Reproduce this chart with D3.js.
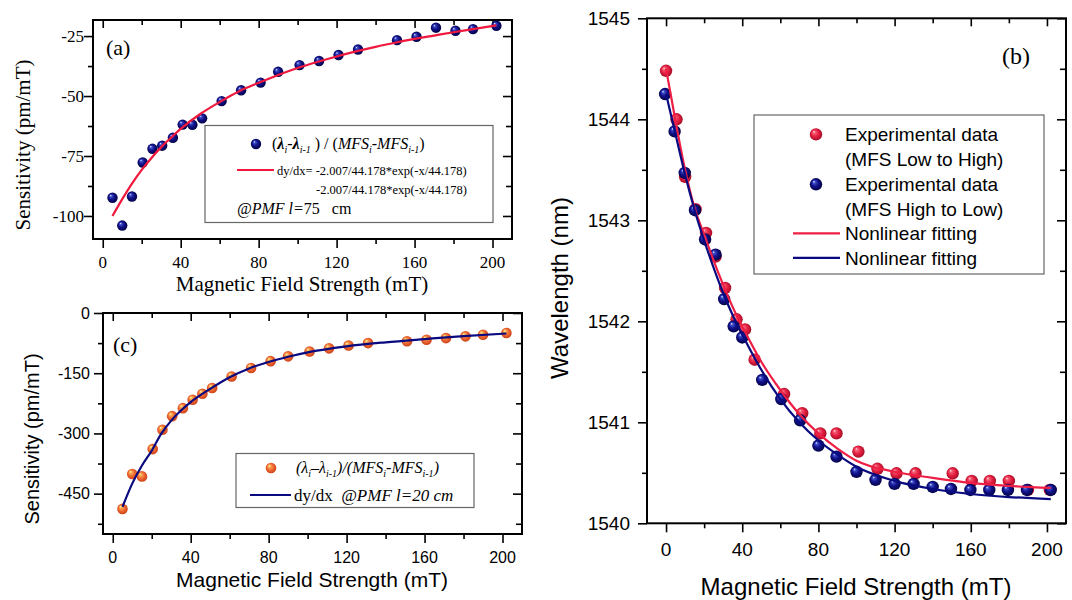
<!DOCTYPE html>
<html>
<head>
<meta charset="utf-8">
<script src="https://cdn.jsdelivr.net/npm/d3@7"></script>
<style>
  html, body { margin: 0; padding: 0; background: #fff; }
  svg { display: block; }
</style>
</head>
<body>
<script>
// ---------------- DATA ----------------
// Panel (a): sensitivity, PMF l = 75 cm
const aMFS  = [5, 10, 15, 20.5, 25.5, 30.5, 36, 41, 46, 51, 61, 71, 81, 90, 101, 111, 121, 131, 151, 161, 171, 181, 190, 202];
const aSens = [-92.4, -104, -91.9, -77.7, -72, -70.7, -67.4, -61.9, -62, -59.3, -52.1, -47.6, -44.4, -39.9, -37.1, -35.4, -32.9, -30.6, -26.7, -25.3, -21.5, -22.8, -22.1, -20.7];
const aFitMFS  = [5, 10, 15, 20, 25, 30, 35, 40, 50, 60, 70, 80, 90, 100, 110, 120, 130, 140, 150, 160, 170, 180, 190, 202];
const aFitSens = [-100, -93, -86.5, -80.8, -75.8, -71.3, -67.4, -63.7, -57.5, -52.5, -48, -44.5, -41.2, -38.3, -35.8, -33.5, -31.4, -29.5, -27.8, -26.2, -24.8, -23.4, -22.1, -20.5];
const aXTicks = [0, 40, 80, 120, 160, 200];
const aXMinor = [20, 60, 100, 140, 180];
const aYTicks = [-100, -75, -50, -25];
const aYMinor = [-87.5, -62.5, -37.5];

// Panel (c): sensitivity, PMF l = 20 cm
const cMFS  = [5, 10, 15, 20.5, 25.5, 30.5, 36, 41, 46, 51, 61, 71, 81, 90, 101, 111, 121, 131, 151, 161, 171, 181, 190, 202];
const cSens = [-488, -401, -407, -339, -291, -257, -237, -216, -201, -187, -158, -137, -120, -108, -96, -88, -81, -75, -70.5, -66.5, -62.5, -58.2, -54, -50];
const cFitMFS  = [5, 10, 15, 20, 25, 30, 35, 40, 50, 60, 70, 80, 90, 100, 120, 140, 160, 180, 202];
const cFitSens = [-483, -425, -380, -343, -300, -268, -243, -222, -189, -160, -138, -122, -109, -98, -83, -73, -65, -57.5, -51];
const cXTicks = [0, 40, 80, 120, 160, 200];
const cXMinor = [20, 60, 100, 140, 180];
const cYTicks = [-450, -300, -150, 0];
const cYMinor = [-525, -375, -225, -75];

// Panel (b): wavelength vs MFS
const bLowMFS = [0, 5.5, 10, 15.5, 21, 26, 31, 37, 41.5, 46.5, 62, 71.5, 81, 89.5, 101, 111, 121, 131, 150.5, 160.5, 170, 180, 190, 201.5];
const bLowWl  = [1544.48, 1544.0, 1543.43, 1543.11, 1542.875, 1542.64, 1542.33, 1542.02, 1541.92, 1541.62, 1541.28, 1541.09, 1540.89, 1540.89, 1540.71, 1540.54, 1540.495, 1540.495, 1540.495, 1540.42, 1540.42, 1540.42, 1540.33, 1540.33];
const bHighMFS = [-0.5, 4.5, 9.8, 15.2, 20.5, 26, 30.5, 35.5, 40, 50.5, 60.5, 70.4, 80, 89.5, 100, 110, 120, 130, 140, 149.6, 159.8, 169.7, 179.5, 189.5, 202];
const bHighWl  = [1544.25, 1543.88, 1543.47, 1543.10, 1542.81, 1542.66, 1542.22, 1541.95, 1541.84, 1541.42, 1541.23, 1541.02, 1540.77, 1540.66, 1540.51, 1540.43, 1540.39, 1540.39, 1540.36, 1540.34, 1540.33, 1540.33, 1540.33, 1540.33, 1540.33];
const bFitMFS     = [0, 5, 10, 15, 20, 25, 30, 35, 40, 50, 60, 70, 80, 90, 100, 120, 140, 160, 180, 202];
const bFitLowWl   = [1544.50, 1543.98, 1543.50, 1543.12, 1542.86, 1542.60, 1542.36, 1542.14, 1541.95, 1541.60, 1541.32, 1541.08, 1540.89, 1540.74, 1540.62, 1540.51, 1540.45, 1540.40, 1540.37, 1540.35];
const bFitHighWl  = [1544.25, 1543.85, 1543.45, 1543.10, 1542.80, 1542.53, 1542.28, 1542.06, 1541.87, 1541.52, 1541.23, 1541.00, 1540.82, 1540.68, 1540.56, 1540.42, 1540.34, 1540.29, 1540.26, 1540.24];
const bXTicks = [0, 40, 80, 120, 160, 200];
const bXMinor = [20, 60, 100, 140, 180];
const bYTicks = [1540, 1541, 1542, 1543, 1544, 1545];
const bYMinor = [1540.5, 1541.5, 1542.5, 1543.5, 1544.5];

// ---------------- DRAWING ----------------
const SERIF = "'Liberation Serif', 'Times New Roman', serif";
const SANS = "'Liberation Sans', Arial, sans-serif";

const svg = d3.select("body").append("svg").attr("width", 1072).attr("height", 600);
const defs = svg.append("defs");

function sphereGrad(id, stops) {
  const g = defs.append("radialGradient").attr("id", id)
    .attr("cx", "50%").attr("cy", "50%").attr("r", "55%")
    .attr("fx", "32%").attr("fy", "28%");
  stops.forEach(([o, c]) => g.append("stop").attr("offset", o).attr("stop-color", c));
}
sphereGrad("gNavy", [["0%", "#e8f0ff"], ["18%", "#4050c8"], ["50%", "#12128c"], ["100%", "#00003a"]]);
sphereGrad("gRed", [["0%", "#ffe0e6"], ["20%", "#f45a72"], ["55%", "#e41e40"], ["100%", "#9a0c22"]]);
sphereGrad("gOrange", [["0%", "#ffffb0"], ["22%", "#f8a850"], ["55%", "#f06a34"], ["100%", "#c43a12"]]);

function frame(p) {
  const { x, y, xMaj, xMin, yMaj, yMin, font, size, xLabY, yLabX } = p;
  const [xl, xr] = x.range();
  const [yb, yt] = y.range();
  const g = svg.append("g");
  const style = sel => {
    sel.select(".domain").remove();
    sel.selectAll("line").attr("stroke", "#000").attr("stroke-width", 1.6);
  };
  // bottom (outward) and top (inward)
  g.append("g").attr("transform", `translate(0,${yb})`)
    .call(d3.axisBottom(x).tickValues(xMaj).tickSizeInner(9).tickSizeOuter(0).tickFormat("")).call(style);
  g.append("g").attr("transform", `translate(0,${yb})`)
    .call(d3.axisBottom(x).tickValues(xMin).tickSizeInner(5).tickSizeOuter(0).tickFormat("")).call(style);
  g.append("g").attr("transform", `translate(0,${yt})`)
    .call(d3.axisTop(x).tickValues(xMaj).tickSizeInner(-8).tickSizeOuter(0).tickFormat("")).call(style);
  g.append("g").attr("transform", `translate(0,${yt})`)
    .call(d3.axisTop(x).tickValues(xMin).tickSizeInner(-5).tickSizeOuter(0).tickFormat("")).call(style);
  // left (outward) and right (inward)
  g.append("g").attr("transform", `translate(${xl},0)`)
    .call(d3.axisLeft(y).tickValues(yMaj).tickSizeInner(9).tickSizeOuter(0).tickFormat("")).call(style);
  g.append("g").attr("transform", `translate(${xl},0)`)
    .call(d3.axisLeft(y).tickValues(yMin).tickSizeInner(5).tickSizeOuter(0).tickFormat("")).call(style);
  g.append("g").attr("transform", `translate(${xr},0)`)
    .call(d3.axisRight(y).tickValues(yMaj).tickSizeInner(-9).tickSizeOuter(0).tickFormat("")).call(style);
  g.append("g").attr("transform", `translate(${xr},0)`)
    .call(d3.axisRight(y).tickValues(yMin).tickSizeInner(-6).tickSizeOuter(0).tickFormat("")).call(style);
  // frame
  g.append("rect").attr("x", xl).attr("y", yt).attr("width", xr - xl).attr("height", yb - yt)
    .attr("fill", "none").attr("stroke", "#000").attr("stroke-width", 2);
  // tick labels
  g.selectAll(".xl").data(xMaj).join("text").attr("class", "xl")
    .attr("x", d => x(d)).attr("y", xLabY).attr("text-anchor", "middle")
    .attr("font-family", font).attr("font-size", size).text(d => String(d));
  g.selectAll(".yl").data(yMaj).join("text").attr("class", "yl")
    .attr("x", yLabX).attr("y", d => y(d) + size * 0.35).attr("text-anchor", "end")
    .attr("font-family", font).attr("font-size", size).text(d => String(d));
  return g;
}

function text(x, y, str, font, size, opts = {}) {
  const t = svg.append("text").attr("x", x).attr("y", y).attr("font-family", font).attr("font-size", size)
    .attr("fill", "#000").text(str);
  if (opts.anchor) t.attr("text-anchor", opts.anchor);
  if (opts.rotate) t.attr("transform", `rotate(-90,${x},${y})`);
  if (opts.italic) t.attr("font-style", "italic");
  return t;
}

function balls(xs, ys, x, y, grad, r) {
  svg.append("g").selectAll("circle").data(d3.zip(xs, ys)).join("circle")
    .attr("cx", d => x(d[0])).attr("cy", d => y(d[1])).attr("r", r).attr("fill", `url(#${grad})`);
}
function fitLine(xs, ys, x, y, color) {
  const line = d3.line().x(d => x(d[0])).y(d => y(d[1])).curve(d3.curveMonotoneX);
  svg.append("path").datum(d3.zip(xs, ys)).attr("d", line)
    .attr("fill", "none").attr("stroke", color).attr("stroke-width", 2.2);
}

// ---- Panel (a)
{
  const x = d3.scaleLinear().domain([-5, 210]).range([93, 512]);
  const y = d3.scaleLinear().domain([-109.6, -18.3]).range([239, 20]);
  frame({ x, y, xMaj: aXTicks, xMin: aXMinor, yMaj: aYTicks, yMin: aYMinor, font: SERIF, size: 17, xLabY: 268, yLabX: 84 });
  balls(aMFS, aSens, x, y, "gNavy", 5.2);
  fitLine(aFitMFS, aFitSens, x, y, "#f0183c");
  text(106, 55, "(a)", SERIF, 22);
  text(302, 291, "Magnetic Field Strength (mT)", SERIF, 21, { anchor: "middle" });
  text(30, 145, "Sensitivity (pm/mT)", SERIF, 21, { anchor: "middle", rotate: true });

  // legend
  svg.append("rect").attr("x", 205).attr("y", 125.5).attr("width", 288).attr("height", 97)
    .attr("fill", "#fff").attr("stroke", "#666").attr("stroke-width", 1.2);
  svg.append("circle").attr("cx", 256).attr("cy", 144).attr("r", 5.2).attr("fill", "url(#gNavy)");
  const t1 = svg.append("text").attr("x", 272).attr("y", 149).attr("font-family", SERIF).attr("font-size", 16);
  t1.append("tspan").text("(");
  t1.append("tspan").attr("font-style", "italic").attr("font-weight", "bold").text("λ");
  t1.append("tspan").attr("font-size", 10).attr("font-style", "italic").attr("dy", 4).text("i");
  t1.append("tspan").attr("dy", -4).text("-");
  t1.append("tspan").attr("font-style", "italic").attr("font-weight", "bold").text("λ");
  t1.append("tspan").attr("font-size", 10).attr("font-style", "italic").attr("dy", 4).text("i-1");
  t1.append("tspan").attr("dy", -4).text(" ) / (");
  t1.append("tspan").attr("font-style", "italic").text("MFS");
  t1.append("tspan").attr("font-size", 10).attr("font-style", "italic").attr("dy", 4).text("i");
  t1.append("tspan").attr("dy", -4).text("-");
  t1.append("tspan").attr("font-style", "italic").text("MFS");
  t1.append("tspan").attr("font-size", 10).attr("font-style", "italic").attr("dy", 4).text("i-1");
  t1.append("tspan").attr("dy", -4).text(")");
  svg.append("line").attr("x1", 237).attr("x2", 274).attr("y1", 170).attr("y2", 170)
    .attr("stroke", "#f0183c").attr("stroke-width", 2.2);
  text(277, 174.5, "dy/dx= -2.007/44.178*exp(-x/44.178)", SERIF, 12.5);
  text(316, 193.5, "-2.007/44.178*exp(-x/44.178)", SERIF, 12.5);
  const t4 = svg.append("text").attr("x", 237).attr("y", 213.5).attr("font-family", SERIF).attr("font-size", 16);
  t4.append("tspan").attr("font-style", "italic").text("@PMF l=");
  t4.append("tspan").text("75\u00a0\u00a0 cm");
}

// ---- Panel (c)
{
  const x = d3.scaleLinear().domain([-5, 210]).range([103, 522]);
  const y = d3.scaleLinear().domain([-550.5, 0]).range([534, 313]);
  frame({ x, y, xMaj: cXTicks, xMin: cXMinor, yMaj: cYTicks, yMin: cYMinor, font: SANS, size: 16, xLabY: 563, yLabX: 90 });
  balls(cMFS, cSens, x, y, "gOrange", 5.3);
  fitLine(cFitMFS, cFitSens, x, y, "#0a0a80");
  text(113, 352, "(c)", SERIF, 22);
  text(312, 587, "Magnetic Field Strength (mT)", SANS, 21, { anchor: "middle" });
  text(39, 439, "Sensitivity (pm/mT)", SANS, 20, { anchor: "middle", rotate: true });

  svg.append("rect").attr("x", 236).attr("y", 453.5).attr("width", 238).attr("height", 54)
    .attr("fill", "#fff").attr("stroke", "#666").attr("stroke-width", 1.2);
  svg.append("circle").attr("cx", 271).attr("cy", 468).attr("r", 5.3).attr("fill", "url(#gOrange)");
  const t1 = svg.append("text").attr("x", 296).attr("y", 473).attr("font-family", SERIF).attr("font-size", 16).attr("font-style", "italic");
  t1.append("tspan").text("(λ");
  t1.append("tspan").attr("font-size", 10).attr("dy", 4).text("i");
  t1.append("tspan").attr("dy", -4).text("–λ");
  t1.append("tspan").attr("font-size", 10).attr("dy", 4).text("i-1");
  t1.append("tspan").attr("dy", -4).text(")/(MFS");
  t1.append("tspan").attr("font-size", 10).attr("dy", 4).text("i");
  t1.append("tspan").attr("dy", -4).text("-MFS");
  t1.append("tspan").attr("font-size", 10).attr("dy", 4).text("i-1");
  t1.append("tspan").attr("dy", -4).text(")");
  svg.append("line").attr("x1", 250).attr("x2", 291).attr("y1", 495).attr("y2", 495)
    .attr("stroke", "#0a0a80").attr("stroke-width", 2.2);
  const t2 = svg.append("text").attr("x", 294).attr("y", 501).attr("font-family", SERIF).attr("font-size", 17);
  t2.append("tspan").text("dy/dx\u00a0\u00a0");
  t2.append("tspan").attr("font-style", "italic").text("@PMF l=20 cm");
}

// ---- Panel (b)
{
  const x = d3.scaleLinear().domain([-10, 210]).range([647, 1066]);
  const y = d3.scaleLinear().domain([1540, 1545]).range([523.3, 18.3]);
  frame({ x, y, xMaj: bXTicks, xMin: bXMinor, yMaj: bYTicks, yMin: bYMinor, font: SANS, size: 19, xLabY: 556, yLabX: 630 });
  balls(bLowMFS, bLowWl, x, y, "gRed", 6.2);
  balls(bHighMFS, bHighWl, x, y, "gNavy", 6.2);
  fitLine(bFitMFS, bFitLowWl, x, y, "#ee1e44");
  fitLine(bFitMFS, bFitHighWl, x, y, "#0a0a80");
  text(1002, 64, "(b)", SERIF, 24);
  text(856, 595, "Magnetic Field Strength (mT)", SANS, 24, { anchor: "middle" });
  text(568, 288, "Wavelength (nm)", SANS, 24, { anchor: "middle", rotate: true });

  svg.append("rect").attr("x", 754).attr("y", 115).attr("width", 290).attr("height", 159)
    .attr("fill", "#fff").attr("stroke", "#666").attr("stroke-width", 1.2);
  const rows = [134.4, 158.6, 184.3, 209.2, 233.3, 257.9];
  svg.append("circle").attr("cx", 816).attr("cy", rows[0]).attr("r", 6.2).attr("fill", "url(#gRed)");
  svg.append("circle").attr("cx", 816).attr("cy", rows[2]).attr("r", 6.2).attr("fill", "url(#gNavy)");
  svg.append("line").attr("x1", 793).attr("x2", 840).attr("y1", rows[4]).attr("y2", rows[4]).attr("stroke", "#ee1e44").attr("stroke-width", 2.2);
  svg.append("line").attr("x1", 793).attr("x2", 840).attr("y1", rows[5]).attr("y2", rows[5]).attr("stroke", "#0a0a80").attr("stroke-width", 2.2);
  const labels = ["Experimental data", "(MFS Low to High)", "Experimental data", "(MFS High to Low)", "Nonlinear fitting", "Nonlinear fitting"];
  labels.forEach((s, i) => text(845, rows[i] + 7, s, SANS, 19));
}
</script>
</body>
</html>
